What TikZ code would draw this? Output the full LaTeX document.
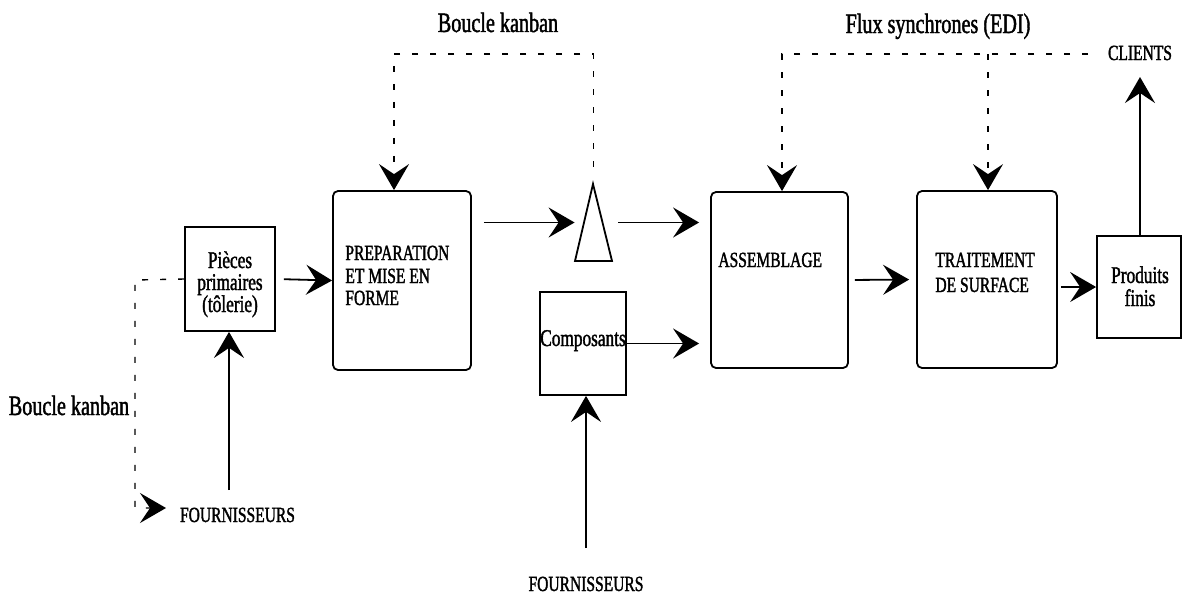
\documentclass[tikz,border=0pt]{standalone}
\usepackage{fontspec}
\setmainfont{Liberation Serif}[FakeStretch=0.72,FakeBold=1.5]
\usetikzlibrary{arrows.meta,calc}
\begin{document}
\begin{tikzpicture}[x=0.5pt,y=-0.5pt,
  box/.style={draw,line width=0.9pt,inner sep=0,rounded corners=2.5pt},
  sbox/.style={draw,line width=0.9pt,inner sep=0},
  lab/.style={inner sep=0,anchor=base},
  labw/.style={inner sep=0,anchor=base west},
  big/.style={font=\fontsize{14}{14}\selectfont},
  caps/.style={font=\fontsize{10.8}{10.8}\selectfont},
  small/.style={font=\fontsize{12}{12}\selectfont},
  tip/.style={-{Stealth[length=13pt,width=15pt,inset=5pt]}},
  arr/.style={line width=0.9pt,tip},
  kan/.style={line width=0.7pt,dash pattern=on 3pt off 6pt,tip},
  tri/.style={line width=0.9pt}
]
\useasboundingbox (0,0) rectangle (1182,594);

% boxes
\node[sbox,minimum width=45pt,minimum height=52pt] (pieces) at (230,279) {};
\node[box,minimum width=69pt,minimum height=89.5pt] (prep) at (402,280.5) {};
\node[sbox,minimum width=43pt,minimum height=51.5pt] (comp) at (583,343.5) {};
\node[box,minimum width=68.5pt,minimum height=88pt] (assem) at (779.5,280) {};
\node[box,minimum width=70pt,minimum height=88.5pt] (trait) at (987,279.5) {};
\node[sbox,minimum width=42pt,minimum height=51pt] (prod) at (1139,287) {};

% triangle (stock)
\draw[tri] (575,261) -- (593,184) -- (612,261) -- cycle;
\node[inner sep=0,minimum width=18.5pt,minimum height=38.5pt] (tria) at (593.5,222.5) {};

% box texts
\node[lab,small] (pa) at (230,268) {Pièces};
\node[lab,small] (pb) at (230,290) {primaires};
\node[lab,small] (pc) at (230,312) {(tôlerie)};
\node[labw,caps] (ra) at (345,260) {PREPARATION};
\node[labw,caps] (rb) at (345,283) {ET MISE EN};
\node[labw,caps] (rc) at (345,305) {FORME};
\node[lab,small] (ca) at (583,346) {Composants};
\node[labw,caps] (aa) at (718,267) {ASSEMBLAGE};
\node[labw,caps] (ta) at (935,267) {TRAITEMENT};
\node[labw,caps] (tb) at (935,292) {DE SURFACE};
\node[lab,small] (da) at (1140,283) {Produits};
\node[lab,small] (db) at (1140,306) {finis};

% outside labels
\node[lab,big] (bk1) at (498,32) {Boucle kanban};
\node[lab,big] (bk2) at (69,415) {Boucle kanban};
\node[lab,big] (fx) at (938,33) {Flux synchrones (EDI)};
\node[lab,caps] (cl) at (1140,60) {CLIENTS};
\node[lab,caps] (f1) at (237.5,522) {FOURNISSEURS};
\node[lab,caps] (f2) at (586,591) {FOURNISSEURS};

% coordinates
\coordinate (s1) at (229,490);
\coordinate (s2) at (586,548);
\coordinate (c1) at (1140,77);
\coordinate (k0) at (135,280);
\coordinate (k1) at (166,508);
\coordinate (k2) at (394,54);
\coordinate (k3) at (782,54);
\coordinate (k4) at (988,54);
\coordinate (k5) at (1088,54);

% solid flows
\draw[arr,shorten <=4pt] (pieces.east) -- (prep.west);
\draw[arr] (s1) -- (s1 |- pieces.south);
\draw[arr,shorten <=6pt] (prep.east |- tria.west) -- (tria.west);
\draw[arr,shorten <=3pt,shorten >=5.5pt] (tria.east) -- (tria.east -| assem.west);
\draw[arr,shorten >=5.5pt] (comp.east) -- (comp.east -| assem.west);
\draw[arr] (s2) -- (s2 |- comp.south);
\draw[arr,shorten <=3pt,shorten >=3.5pt] (assem.east) -- (trait.west);
\draw[arr,shorten <=1.5pt] (trait.east |- prod.west) -- (prod.west);
\draw[arr] (prod.north -| c1) -- (c1);

% kanban / EDI dashed loops
\draw[kan] (pieces.west) -- (k0) |- (k1);
\draw[kan] ($(tria.north)+(0,-17)$) |- (k2) -- (k2 |- prep.north);
\draw[kan] (k5) -- (k3) -- (k3 |- assem.north);
\draw[kan] (k4) -- (k4 |- trait.north);
\end{tikzpicture}
\end{document}
